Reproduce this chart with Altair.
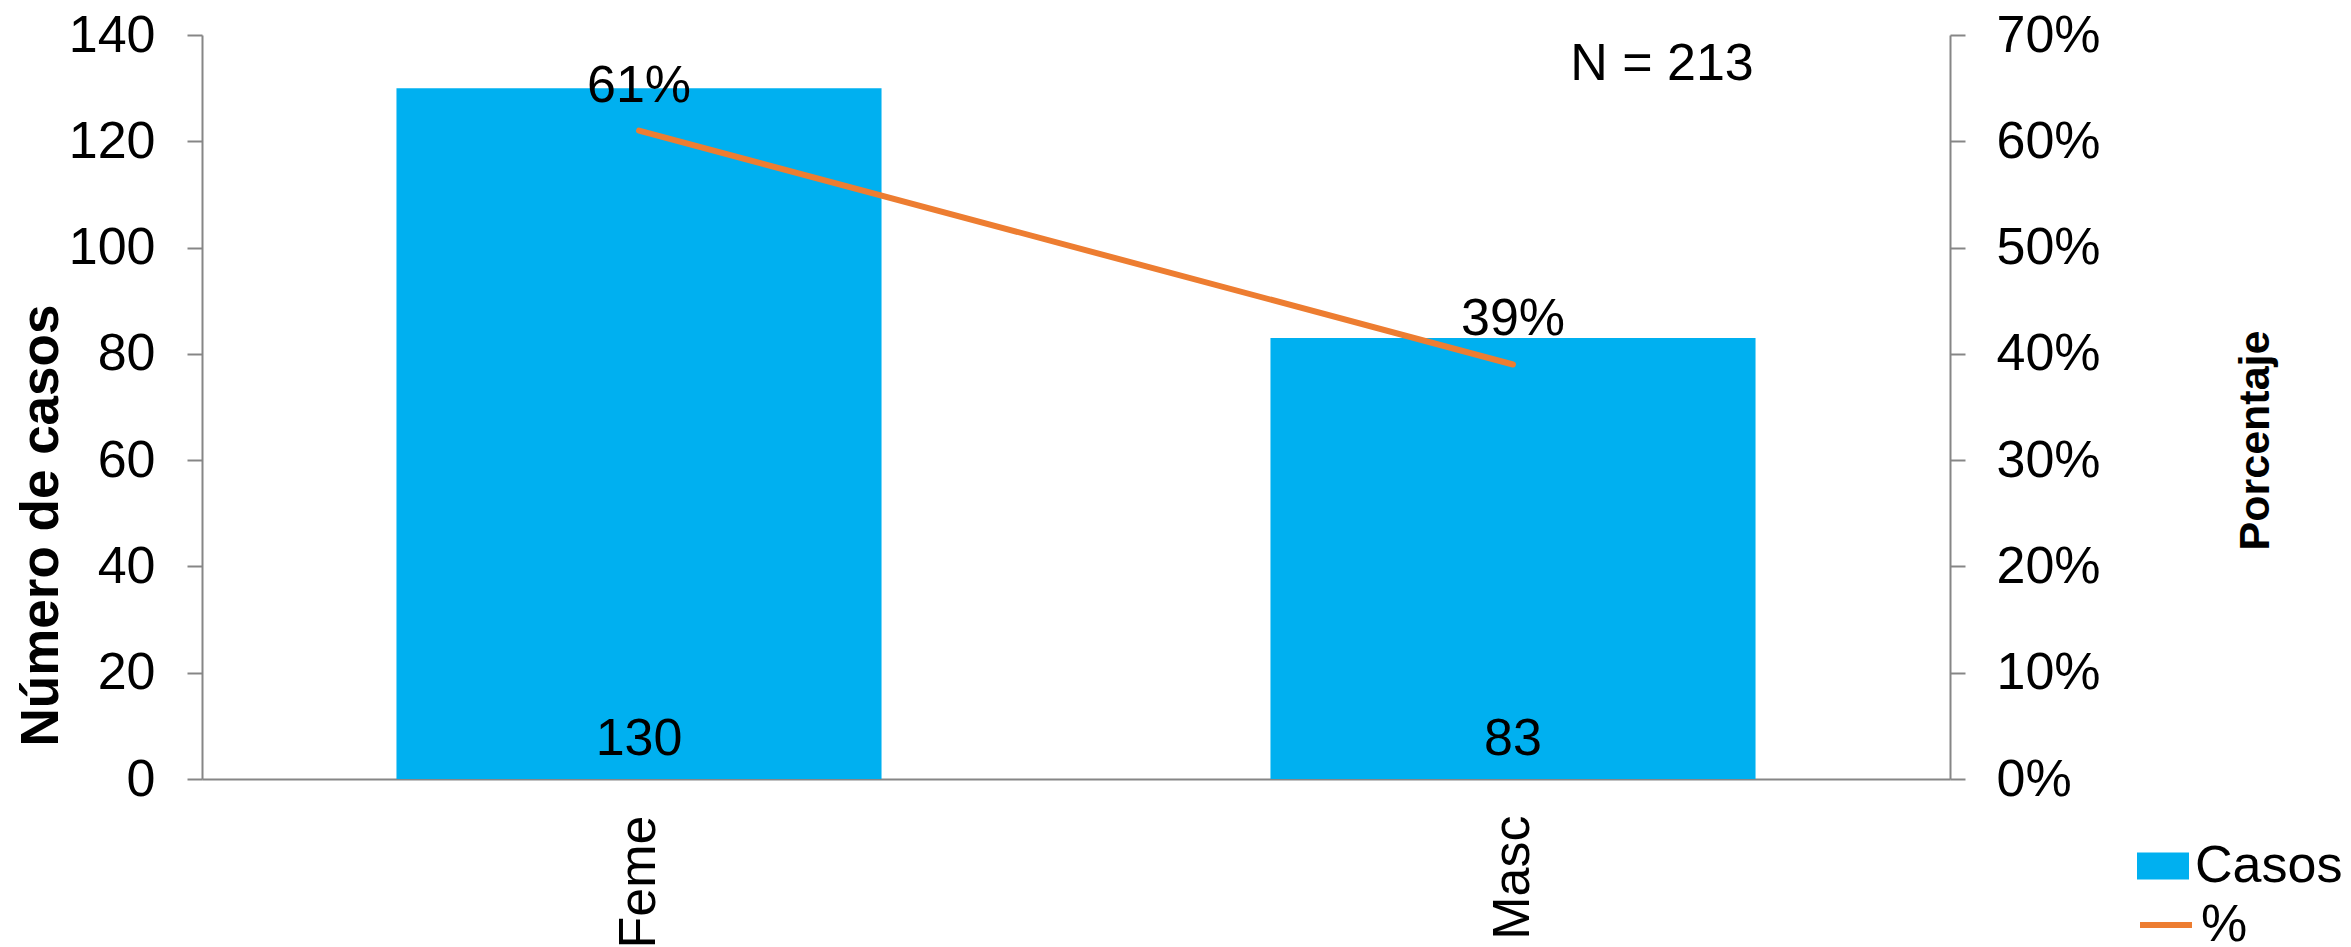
import altair as alt
import pandas as pd

categorias = ["Feme", "Masc"]
casos = [130, 83]
porcentajes = [0.61, 0.39]
ticks_casos = [0, 20, 40, 60, 80, 100, 120, 140]
ticks_pct = [0, 0.1, 0.2, 0.3, 0.4, 0.5, 0.6, 0.7]
serie_barras = "Casos"
serie_linea = "%"
nota_texto = ["N = 213"]
nota_sexo = ["Masc"]
nota_pct = [0.70]

df = pd.DataFrame({
    "sexo": categorias,
    "casos": casos,
    "pct": porcentajes,
    "serie_b": [serie_barras] * len(categorias),
    "serie_l": [serie_linea] * len(categorias),
})
df_nota = pd.DataFrame({"sexo": nota_sexo, "pct": nota_pct, "texto": nota_texto})

FONT = "Liberation Sans"
GRAY = "#868686"
BLUE = "#00B0F0"
ORANGE = "#ED7D31"

x_enc = alt.X(
    "sexo:N", sort=categorias,
    scale=alt.Scale(domain=categorias, paddingInner=0, paddingOuter=0),
    axis=alt.Axis(title=None, labelAngle=270, labelFontSize=52, labelColor="black",
                  ticks=False, labelPadding=36, domainColor=GRAY, domainWidth=2,
                  labelFont=FONT),
)

base = alt.Chart(df)

bars = base.mark_bar(width=alt.RelativeBandSize(0.555)).encode(
    x=x_enc,
    y=alt.Y("casos:Q", scale=alt.Scale(domain=[0, 140]),
            axis=alt.Axis(values=ticks_casos, title="Número de casos", titleFontSize=53,
                          titleFontWeight="bold", titleAngle=270, titleX=-145, titleY=490,
                          titleBaseline="alphabetic", titleAlign="center", titleColor="black",
                          titleFont=FONT, labelFont=FONT,
                          labelFontSize=52, labelColor="black", labelPadding=32,
                          tickSize=15, tickWidth=2, tickColor=GRAY,
                          domainColor=GRAY, domainWidth=2, grid=False)),
    fill=alt.Fill("serie_b:N", scale=alt.Scale(domain=[serie_barras], range=[BLUE]),
                  legend=alt.Legend(orient="none", legendX=1935, legendY=805, title=None,
                                    padding=0, labelFontSize=52, labelColor="black",
                                    labelFont=FONT, labelOffset=6,
                                    symbolType="M-1,-0.52H1V0.52H-1Z", symbolSize=2704,
                                    symbolStrokeWidth=0, labelLimit=500)),
)

bar_text = base.mark_text(fontSize=52, dy=-24, baseline="alphabetic", font=FONT,
                          color="black").encode(
    x=x_enc,
    y=alt.datum(0),
    text=alt.Text("casos:Q"),
)

line = base.mark_line(strokeWidth=6, strokeCap="round").encode(
    x=x_enc,
    y=alt.Y("pct:Q", scale=alt.Scale(domain=[0, 0.7]),
            axis=alt.Axis(orient="right", values=ticks_pct, format=".0%",
                          title="Porcentaje", titleFontSize=43, titleFontWeight="bold",
                          titleAngle=270, titleX=318, titleY=405, titleBaseline="alphabetic",
                          titleAlign="center", titleColor="black", titleFont=FONT,
                          labelFont=FONT, labelFontSize=52, labelColor="black",
                          labelPadding=31, tickSize=15, tickWidth=2, tickColor=GRAY,
                          domainColor=GRAY, domainWidth=2, grid=False)),
    stroke=alt.Stroke("serie_l:N", scale=alt.Scale(domain=[serie_linea], range=[ORANGE]),
                      legend=alt.Legend(orient="none", legendX=1935, legendY=861, title=None,
                                        padding=0, labelFontSize=52, labelColor="black",
                                        labelFont=FONT, labelOffset=6,
                                        symbolType="stroke", symbolSize=2704,
                                        symbolStrokeWidth=6, labelLimit=500)),
)

pct_text = base.mark_text(fontSize=52, dy=-29, baseline="alphabetic", font=FONT,
                          color="black").encode(
    x=x_enc,
    y=alt.Y("pct:Q"),
    text=alt.Text("pct:Q", format=".0%"),
)

nota = alt.Chart(df_nota).mark_text(fontSize=52, dx=149, dy=45, baseline="alphabetic",
                                    font=FONT, color="black").encode(
    x=x_enc,
    y=alt.Y("pct:Q"),
    text=alt.Text("texto:N"),
)

left = alt.layer(bars, bar_text)
right = alt.layer(line, pct_text, nota)

chart = alt.layer(left, right).resolve_scale(
    y="independent", fill="independent", stroke="independent"
).properties(
    width=1748, height=744,
    autosize=alt.AutoSizeParams(type="none"),
    padding={"left": 194, "top": 27, "right": 393, "bottom": 170},
).configure(font=FONT, background="white").configure_view(stroke=None)

chart.save("out.html", embed_options={"renderer": "svg", "actions": False})
